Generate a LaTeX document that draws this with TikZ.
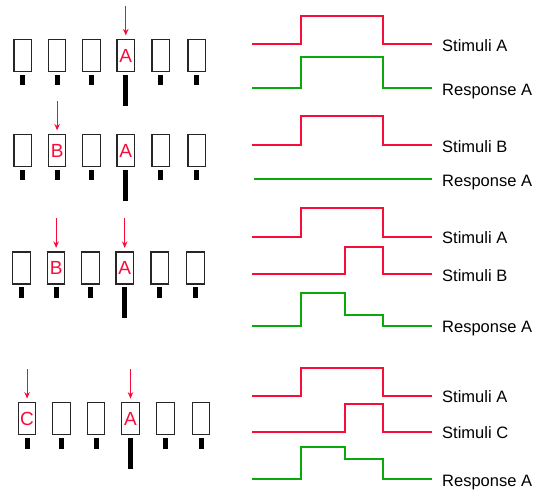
\documentclass[tikz,border=0pt]{standalone}
\usepackage{fontspec}
\setmainfont{Liberation Sans}
\usetikzlibrary{arrows.meta,positioning}
\definecolor{sred}{RGB}{248,12,58}
\definecolor{rgreen}{RGB}{10,168,10}
\tikzset{
  cell/.style={draw=black!85, line width=1.2pt, minimum width=17.5pt, minimum height=32pt, inner sep=0pt, text=sred, font=\fontsize{19}{19}\selectfont},
  sbar/.style={fill=black, minimum width=5pt, minimum height=10.5pt, inner sep=0pt, below=2.5pt of #1},
  lbar/.style={fill=black, minimum width=5pt, minimum height=31pt, inner sep=0pt, below=2.5pt of #1},
  sarrow/.style={draw=sred, line width=1pt, -{Stealth[length=6.5pt,width=5.5pt]}, shorten >=3.5pt},
  wred/.style={draw=sred, line width=2pt, miter limit=10},
  wgreen/.style={draw=rgreen, line width=2pt},
  lab/.style={anchor=base west, inner sep=0pt, font=\fontsize{16.5}{16.5}\selectfont}
}
\begin{document}
\begin{tikzpicture}[x=1pt,y=-1pt]
\useasboundingbox (0,0) rectangle (538,493);
% ---------- row 1 ----------
\foreach \n/\x/\t in {1/22.8/,2/57.1/,3/91.5/,4/125.8/A,5/160.8/,6/196.8/}{
  \node[cell] (r1b\n) at (\x,55.5) {\t};
}
\foreach \n in {1,2,3,5,6}{\node[sbar=r1b\n] (r1s\n) {};}
\node[lbar=r1b4] (r1l4) {};
\coordinate (r1a4) at ([yshift=33pt]r1b4.north);
\draw[sarrow] (r1a4) -- (r1b4.north);
% ---------- row 2 ----------
\foreach \n/\x/\t in {1/22.8/,2/57.1/B,3/91.5/,4/125.8/A,5/160.8/,6/196.8/}{
  \node[cell] (r2b\n) at (\x,150.5) {\t};
}
\foreach \n in {1,2,3,5,6}{\node[sbar=r2b\n] (r2s\n) {};}
\node[lbar=r2b4] (r2l4) {};
\coordinate (r2a2) at ([yshift=33pt]r2b2.north);
\draw[sarrow] (r2a2) -- (r2b2.north);
% ---------- row 3 ----------
\foreach \n/\x/\t in {1/21.6/,2/56.1/B,3/90.5/,4/124.7/A,5/159.8/,6/195.5/}{
  \node[cell] (r3b\n) at (\x,268) {\t};
}
\foreach \n in {1,2,3,5,6}{\node[sbar=r3b\n] (r3s\n) {};}
\node[lbar=r3b4] (r3l4) {};
\coordinate (r3a2) at ([yshift=33pt]r3b2.north);
\coordinate (r3a4) at ([yshift=33pt]r3b4.north);
\draw[sarrow] (r3a2) -- (r3b2.north);
\draw[sarrow] (r3a4) -- (r3b4.north);
% ---------- row 4 ----------
\foreach \n/\x/\t in {1/27.1/C,2/61.5/,3/96.1/,4/130.5/A,5/165.6/,6/201.1/}{
  \node[cell] (r4b\n) at (\x,418.7) {\t};
}
\foreach \n in {1,2,3,5,6}{\node[sbar=r4b\n] (r4s\n) {};}
\node[lbar=r4b4] (r4l4) {};
\coordinate (r4a1) at ([yshift=33pt]r4b1.north);
\coordinate (r4a4) at ([yshift=33pt]r4b4.north);
\draw[sarrow] (r4a1) -- (r4b1.north);
\draw[sarrow] (r4a4) -- (r4b4.north);
% ---------- waveforms ----------
% row 1
\draw[wred] (252,44.3) -- (301,44.3) -- (301,16) -- (383,16) -- (383,44.3) -- (432,44.3);
\node[lab] (l1a) at (442,51.5) {Stimuli A};
\draw[wgreen] (252,88.3) -- (301,88.3) -- (301,57.3) -- (383,57.3) -- (383,88.3) -- (432,88.3);
\node[lab] (l1b) at (442,95) {Response A};
% row 2
\draw[wred] (252,145) -- (301,145) -- (301,116.3) -- (383,116.3) -- (383,145) -- (432,145);
\node[lab] (l2a) at (442,152) {Stimuli B};
\draw[wgreen] (254,179.3) -- (432,179.3);
\node[lab] (l2b) at (442,186.3) {Response A};
% row 3
\draw[wred] (252,236.7) -- (301,236.7) -- (301,207.7) -- (383,207.7) -- (383,236.7) -- (432,236.7);
\node[lab] (l3a) at (442,243.5) {Stimuli A};
\draw[wred] (252,274) -- (345.3,274) -- (345.3,246.7) -- (383,246.7) -- (383,274) -- (432,274);
\node[lab] (l3b) at (442,281) {Stimuli B};
\draw[wgreen] (252,325.7) -- (301,325.7) -- (301,293.3) -- (345.3,293.3) -- (345.3,315) -- (383,315) -- (383,325.7) -- (432,325.7);
\node[lab] (l3c) at (442,332.5) {Response A};
% row 4
\draw[wred] (252,395.7) -- (301,395.7) -- (301,367.7) -- (383,367.7) -- (383,395.7) -- (432,395.7);
\node[lab] (l4a) at (442,402.5) {Stimuli A};
\draw[wred] (252,431.7) -- (345.3,431.7) -- (345.3,404.3) -- (383,404.3) -- (383,431.7) -- (432,431.7);
\node[lab] (l4b) at (442,438.5) {Stimuli C};
\draw[wgreen] (252,479) -- (301,479) -- (301,447.3) -- (345.3,447.3) -- (345.3,459.3) -- (383,459.3) -- (383,479) -- (432,479);
\node[lab] (l4c) at (442,486) {Response A};
\end{tikzpicture}
\end{document}
